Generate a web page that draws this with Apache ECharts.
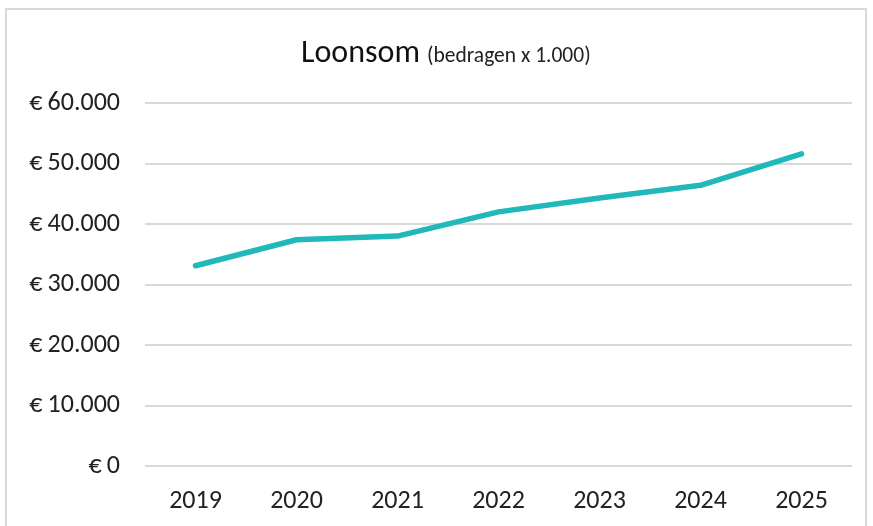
<!DOCTYPE html>
<html>
<head>
<meta charset="utf-8">
<script src="https://cdn.jsdelivr.net/npm/echarts@6/dist/echarts.min.js"></script>
<style>
    html, body { margin: 0; padding: 0; background: #fff; }
    #chart { width: 873px; height: 526px; }
</style>
</head>
<body>
<div id="chart"></div>
<script>
// Loonsom (bedragen x 1.000)
const years = [ '2019', '2020', '2021', '2022', '2023', '2024', '2025' ]
const loonsom = [ 33100, 37400, 38000, 42000, 44300, 46400, 51600 ]

const font = 'Carlito, "Open Sans", sans-serif'

// 60000 -> € 60.000 (smalle spatie na het euroteken)
const euro = v => '€\u2009' + String( v ).replace( /\B(?=(\d{3})+(?!\d))/g, '.' )

const chart = echarts.init( document.getElementById( 'chart' ) )
chart.setOption( {
    animation: false,
    textStyle: { fontFamily: font },
    // titel en ondertitel los, zodat de basislijnen gelijk liggen
    title: [ {
        text: 'Loonsom',
        left: 296,
        top: 33,
        textStyle: { fontFamily: font, fontSize: 32, fontWeight: 'normal', color: '#111' }
    }, {
        text: '(bedragen x 1.000)',
        left: 422,
        top: 41,
        textStyle: { fontFamily: font, fontSize: 21.5, fontWeight: 'normal', color: '#222' }
    } ],
    graphic: [ {
        type: 'rect',
        shape: { x: 6, y: 9, width: 860, height: 540 },
        style: { fill: 'none', stroke: '#d9d9d9', lineWidth: 2 },
        silent: true
    } ],
    grid: {
        left: 145,
        right: 21,
        top: 103,
        bottom: 60
    },
    xAxis: {
        type: 'category',
        data: years,
        boundaryGap: true,
        axisLine: { show: false },
        axisTick: { show: false },
        axisLabel: { color: '#222', fontSize: 26, margin: 22, fontFamily: font }
    },
    yAxis: {
        type: 'value',
        min: 0,
        max: 60000,
        interval: 10000,
        axisLine: { show: false },
        axisTick: { show: false },
        splitLine: { lineStyle: { color: '#d9d9d9', width: 2 } },
        axisLabel: { color: '#222', fontSize: 26, margin: 25, fontFamily: font, formatter: euro }
    },
    series: [ {
        type: 'line',
        data: loonsom,
        symbol: 'none',
        lineStyle: { color: '#20b8b9', width: 5.5, cap: 'round', join: 'round' }
    } ]
} )
</script>
</body>
</html>
